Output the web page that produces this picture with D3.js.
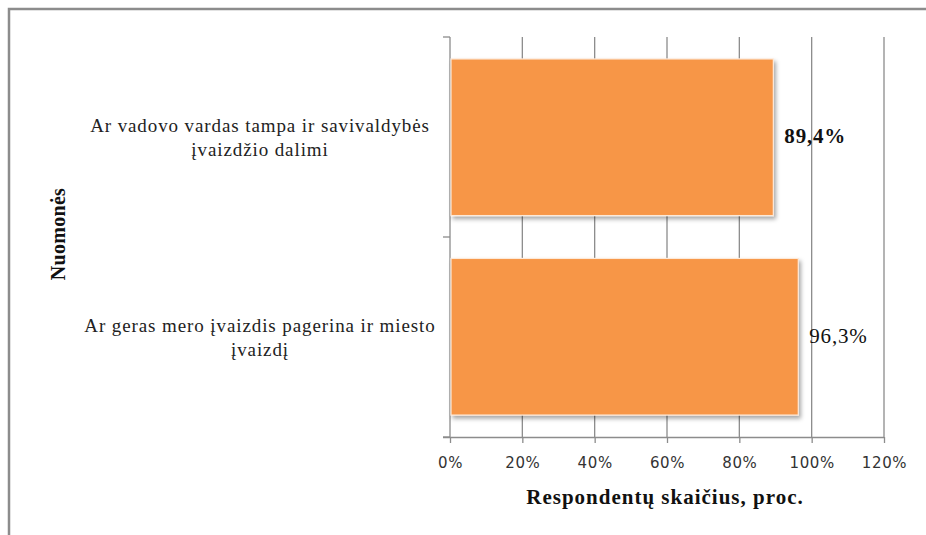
<!DOCTYPE html>
<html>
<head>
<meta charset="utf-8">
<script src="https://cdn.jsdelivr.net/npm/d3@7"></script>
<style>
  html, body { margin: 0; padding: 0; background: #fff; }
  svg { display: block; }
</style>
</head>
<body>
<svg id="chart" width="926" height="535"></svg>
<script>
// Survey answers (share of respondents, %)
const categories = [
  ["Ar vadovo vardas tampa ir savivaldybės", "įvaizdžio dalimi"],
  ["Ar geras mero įvaizdis pagerina ir miesto", "įvaizdį"]
];
const values = [89.4, 96.3];
const valueLabels = ["89,4%", "96,3%"];
const xTicks = [0, 20, 40, 60, 80, 100, 120];
const xTitle = "Respondentų skaičius, proc.";
const yTitle = "Nuomonės";

const serif = "'Liberation Serif', 'Times New Roman', Times, serif";
const svg = d3.select("#chart");
const margin = { left: 450, right: 42, top: 37, bottom: 98 };
const W = 926, H = 535;
const plotW = W - margin.left - margin.right;
const plotH = H - margin.top - margin.bottom;

// outer frame
svg.append("rect")
  .attr("x", 9).attr("y", 9)
  .attr("width", 940).attr("height", 560)
  .attr("fill", "none").attr("stroke", "#8c8c8c").attr("stroke-width", 2.5);

const defs = svg.append("defs");
const f = defs.append("filter").attr("id", "shadow")
  .attr("x", "-5%").attr("y", "-5%").attr("width", "115%").attr("height", "120%");
f.append("feDropShadow").attr("dx", 2).attr("dy", 3).attr("stdDeviation", 2.2)
  .attr("flood-color", "#000").attr("flood-opacity", 0.35);

const g = svg.append("g").attr("transform", `translate(${margin.left},${margin.top})`);

const x = d3.scaleLinear().domain([0, 120]).range([0, plotW]);
const y = d3.scaleBand().domain(d3.range(categories.length)).range([0, plotH])
  .paddingInner(0.215).paddingOuter(0.11);

// vertical gridlines
g.append("g").selectAll("line").data(xTicks.slice(1)).join("line")
  .attr("x1", d => x(d)).attr("x2", d => x(d))
  .attr("y1", 0).attr("y2", plotH)
  .attr("stroke", "#8c8c8c").attr("stroke-width", 1.3);

// x axis
const xAxis = g.append("g").attr("transform", `translate(0,${plotH})`)
  .call(d3.axisBottom(x).tickValues(xTicks).tickFormat(d => d + "%").tickSize(6).tickSizeOuter(0).tickPadding(14));
xAxis.select(".domain").attr("stroke", "#8c8c8c").attr("stroke-width", 1.3)
  .attr("d", `M-7,0.5H${plotW}`);
xAxis.selectAll(".tick line").attr("stroke", "#8c8c8c").attr("stroke-width", 1.3);
xAxis.selectAll(".tick text")
  .attr("font-family", "'DejaVu Sans', sans-serif").attr("font-size", 15)
  .attr("letter-spacing", 0.6).attr("fill", "#333");

// y axis with category boundary ticks
const yAxisG = g.append("g");
yAxisG.append("line").attr("x1", 0).attr("x2", 0).attr("y1", 0).attr("y2", plotH)
  .attr("stroke", "#8c8c8c").attr("stroke-width", 1.3);
yAxisG.selectAll("line.b").data(d3.range(categories.length + 1)).join("line").attr("class", "b")
  .attr("x1", -7).attr("x2", 0)
  .attr("y1", i => i * plotH / categories.length).attr("y2", i => i * plotH / categories.length)
  .attr("stroke", "#8c8c8c").attr("stroke-width", 1.3);

// bars
g.append("g").selectAll("rect").data(values).join("rect")
  .attr("x", x(0) + 1)
  .attr("y", (d, i) => y(i))
  .attr("width", d => x(d) - x(0) - 1)
  .attr("height", y.bandwidth())
  .attr("fill", "#f79646")
  .attr("stroke", "#fde9d9").attr("stroke-width", 1.2)
  .attr("filter", "url(#shadow)");

// value labels
g.append("g").selectAll("text").data(values).join("text")
  .attr("x", d => x(d) + 11)
  .attr("y", (d, i) => y(i) + y.bandwidth() / 2 + 6)
  .attr("font-family", serif)
  .attr("font-size", 21)
  .attr("font-weight", (d, i) => i === 0 ? "bold" : "normal")
  .attr("letter-spacing", 0.8)
  .attr("fill", "#111")
  .text((d, i) => valueLabels[i]);

// category labels
const catG = svg.append("g");
categories.forEach((lines, i) => {
  const cy = margin.top + y(i) + y.bandwidth() / 2;
  const t = catG.append("text")
    .attr("text-anchor", "middle")
    .attr("font-family", serif)
    .attr("font-size", 19)
    .attr("letter-spacing", 0.9)
    .attr("fill", "#222");
  lines.forEach((ln, j) => {
    t.append("tspan").attr("x", 260).attr("y", cy - 5 + j * 24).text(ln);
  });
});

// axis titles
svg.append("text")
  .attr("x", 665).attr("y", 504)
  .attr("text-anchor", "middle")
  .attr("font-family", serif)
  .attr("font-size", 21).attr("font-weight", "bold")
  .attr("letter-spacing", 1)
  .attr("fill", "#111")
  .text(xTitle);

svg.append("text")
  .attr("transform", "translate(65,234) rotate(-90)")
  .attr("text-anchor", "middle")
  .attr("font-family", serif)
  .attr("font-size", 20).attr("font-weight", "bold")
  .attr("letter-spacing", 0.3)
  .attr("fill", "#111")
  .text(yTitle);
</script>
</body>
</html>
